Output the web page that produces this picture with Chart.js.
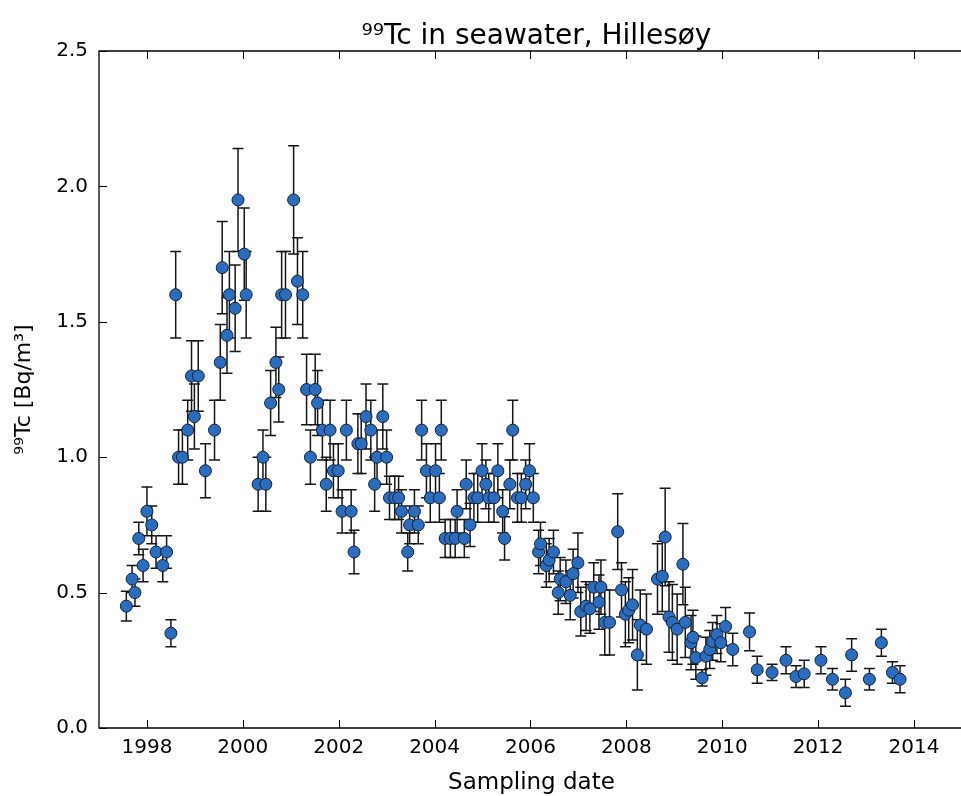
<!DOCTYPE html>
<html><head><meta charset="utf-8">
<script src="https://cdn.jsdelivr.net/npm/chart.js@4.4.1/dist/chart.umd.min.js"></script>
<style>html,body{margin:0;padding:0;overflow:hidden;background:#fff}canvas{display:block}</style>
</head><body>
<canvas id="c" width="961" height="796"></canvas>
<script>
const titleText = '⁹⁹Tc in seawater, Hillesøy';
const xLabel = 'Sampling date';
const yLabel = '⁹⁹Tc [Bq/m³]';
const xTicks = [1998, 2000, 2002, 2004, 2006, 2008, 2010, 2012, 2014];
const yTicks = [0.0, 0.5, 1.0, 1.5, 2.0, 2.5];

const years = [
1997.57,1997.69,1997.75,1997.83,1997.92,1998.00,1998.10,1998.19,1998.33,1998.41,
1998.50,1998.60,1998.66,1998.74,1998.85,1998.93,1998.99,1999.07,1999.22,1999.41,
1999.53,1999.57,1999.67,1999.72,1999.84,1999.90,2000.03,2000.07,2000.32,2000.42,
2000.48,2000.58,2000.69,2000.75,2000.81,2000.89,2001.06,2001.14,2001.25,2001.33,
2001.41,2001.51,2001.56,2001.66,2001.74,2001.82,2001.89,2001.99,2002.07,2002.16,
2002.26,2002.32,2002.40,2002.47,2002.57,2002.67,2002.75,2002.80,2002.92,2003.00,
2003.06,2003.17,2003.25,2003.31,2003.44,2003.48,2003.58,2003.66,2003.73,2003.83,
2003.91,2004.02,2004.10,2004.14,2004.22,2004.33,2004.43,2004.47,2004.62,2004.66,
2004.74,2004.82,2004.90,2004.99,2005.07,2005.13,2005.24,2005.32,2005.42,2005.46,
2005.57,2005.63,2005.73,2005.81,2005.90,2005.98,2006.06,2006.17,2006.21,2006.33,
2006.39,2006.48,2006.58,2006.62,2006.74,2006.83,2006.89,2006.99,2007.05,2007.16,
2007.24,2007.32,2007.43,2007.47,2007.55,2007.65,2007.82,2007.90,2007.98,2008.05,
2008.13,2008.23,2008.29,2008.42,2008.65,2008.75,2008.81,2008.89,2008.96,2009.06,
2009.18,2009.23,2009.35,2009.39,2009.45,2009.58,2009.66,2009.74,2009.80,2009.89,
2009.97,2010.07,2010.22,2010.57,2010.73,2011.04,2011.33,2011.54,2011.71,2012.06,
2012.30,2012.57,2012.70,2013.07,2013.32,2013.55,2013.71
];

const values = [
0.45,0.55,0.50,0.70,0.60,0.80,0.75,0.65,0.60,0.65,
0.35,1.60,1.00,1.00,1.10,1.30,1.15,1.30,0.95,1.10,
1.35,1.70,1.45,1.60,1.55,1.95,1.75,1.60,0.90,1.00,
0.90,1.20,1.35,1.25,1.60,1.60,1.95,1.65,1.60,1.25,
1.00,1.25,1.20,1.10,0.90,1.10,0.95,0.95,0.80,1.10,
0.80,0.65,1.05,1.05,1.15,1.10,0.90,1.00,1.15,1.00,
0.85,0.85,0.85,0.80,0.65,0.75,0.80,0.75,1.10,0.95,
0.85,0.95,0.85,1.10,0.70,0.70,0.70,0.80,0.70,0.90,
0.75,0.85,0.85,0.95,0.90,0.85,0.85,0.95,0.80,0.70,
0.90,1.10,0.85,0.85,0.90,0.95,0.85,0.65,0.68,0.60,
0.62,0.65,0.50,0.55,0.54,0.49,0.57,0.61,0.43,0.45,
0.44,0.52,0.465,0.52,0.39,0.39,0.725,0.51,0.42,0.435,
0.455,0.27,0.38,0.365,0.55,0.56,0.705,0.41,0.39,0.365,
0.605,0.39,0.315,0.335,0.26,0.185,0.265,0.29,0.32,0.345,
0.315,0.375,0.29,0.355,0.215,0.205,0.25,0.19,0.20,0.25,
0.18,0.13,0.27,0.18,0.315,0.205,0.18
];

const errors = [
0.055,0.05,0.05,0.06,0.06,0.09,0.07,0.06,0.06,0.06,
0.05,0.16,0.10,0.10,0.11,0.13,0.12,0.13,0.10,0.11,
0.14,0.17,0.14,0.16,0.16,0.19,0.17,0.16,0.10,0.10,
0.10,0.12,0.13,0.12,0.16,0.16,0.20,0.16,0.16,0.13,
0.10,0.13,0.12,0.11,0.10,0.11,0.10,0.10,0.08,0.11,
0.08,0.08,0.11,0.11,0.12,0.11,0.10,0.10,0.12,0.10,
0.08,0.08,0.08,0.08,0.07,0.07,0.08,0.07,0.11,0.10,
0.09,0.10,0.09,0.11,0.07,0.07,0.07,0.08,0.07,0.09,
0.08,0.09,0.09,0.10,0.09,0.09,0.09,0.10,0.08,0.08,
0.09,0.11,0.09,0.09,0.09,0.10,0.09,0.08,0.08,0.08,
0.08,0.08,0.08,0.08,0.08,0.09,0.09,0.11,0.09,0.09,
0.09,0.09,0.10,0.10,0.12,0.12,0.14,0.10,0.12,0.12,
0.13,0.13,0.13,0.13,0.13,0.13,0.18,0.13,0.14,0.13,
0.15,0.13,0.10,0.10,0.08,0.03,0.07,0.07,0.07,0.07,
0.07,0.07,0.06,0.07,0.05,0.03,0.05,0.04,0.05,0.05,
0.04,0.05,0.06,0.04,0.05,0.04,0.05
];

const FONT = "'DejaVu Sans', sans-serif";
Chart.defaults.font.family = FONT;
Chart.defaults.color = '#000';

const errorBarPlugin = {
  id: 'errorBars',
  beforeDatasetsDraw(chart) {
    const {ctx, scales: {x, y}} = chart;
    ctx.save();
    ctx.strokeStyle = '#151515';
    ctx.lineWidth = 1.5;
    for (let i = 0; i < years.length; i++) {
      const px = x.getPixelForValue(years[i]);
      const yt = y.getPixelForValue(values[i] + errors[i]);
      const yb = y.getPixelForValue(values[i] - errors[i]);
      ctx.beginPath();
      ctx.moveTo(px, yt); ctx.lineTo(px, yb);
      ctx.moveTo(px - 5.5, yt); ctx.lineTo(px + 5.5, yt);
      ctx.moveTo(px - 5.5, yb); ctx.lineTo(px + 5.5, yb);
      ctx.stroke();
    }
    ctx.restore();
  }
};

const framePlugin = {
  id: 'frame',
  afterDatasetsDraw(chart) {
    const {ctx, chartArea: a, scales: {x, y}} = chart;
    ctx.save();
    ctx.strokeStyle = '#000';
    ctx.lineWidth = 1.3;
    ctx.beginPath();
    ctx.moveTo(chart.width, a.top); ctx.lineTo(a.left, a.top);
    ctx.lineTo(a.left, a.bottom); ctx.lineTo(chart.width, a.bottom);
    ctx.stroke();
    ctx.lineWidth = 1;
    ctx.beginPath();
    xTicks.forEach(v => {
      const px = Math.round(x.getPixelForValue(v)) + 0.5;
      ctx.moveTo(px, a.bottom); ctx.lineTo(px, a.bottom - 8);
      ctx.moveTo(px, a.top); ctx.lineTo(px, a.top + 8);
    });
    yTicks.forEach(v => {
      const py = Math.round(y.getPixelForValue(v)) + 0.5;
      ctx.moveTo(a.left, py); ctx.lineTo(a.left + 8, py);
    });
    ctx.stroke();
    // title and x label centred over the full axes (axes run to 2015, beyond the page edge)
    const cx = x.getPixelForValue(2006);
    ctx.fillStyle = '#000';
    ctx.textAlign = 'center';
    ctx.textBaseline = 'alphabetic';
    ctx.font = '28px ' + FONT;
    ctx.fillText(titleText, cx + 6, 44);
    ctx.font = '23px ' + FONT;
    ctx.fillText(xLabel, cx + 1, 789);
    ctx.restore();
  }
};

new Chart(document.getElementById('c'), {
  type: 'scatter',
  data: {
    datasets: [{
      data: years.map((v, i) => ({x: v, y: values[i]})),
      backgroundColor: '#2b6cbd',
      borderColor: '#10223a',
      borderWidth: 1,
      pointRadius: 6,
      pointHoverRadius: 6
    }]
  },
  options: {
    responsive: false,
    devicePixelRatio: 1,
    animation: false,
    layout: {padding: {top: 51, right: 0, bottom: 0, left: 0}},
    plugins: {legend: {display: false}, tooltip: {enabled: false}, title: {display: false}},
    scales: {
      x: {
        type: 'linear', min: 1997, max: 2014.835,
        afterBuildTicks: s => { s.ticks = xTicks.map(v => ({value: v})); },
        afterFit: s => { s.height = 68; },
        grid: {display: false, drawTicks: false},
        border: {display: false},
        ticks: {callback: v => String(v), font: {size: 20}, color: '#000', padding: 8, maxRotation: 0, autoSkip: false},
        title: {display: false}
      },
      y: {
        type: 'linear', min: 0, max: 2.5,
        afterBuildTicks: s => { s.ticks = yTicks.map(v => ({value: v})); },
        afterFit: s => { s.width = 99; },
        grid: {display: false, drawTicks: false},
        border: {display: false},
        ticks: {callback: v => v.toFixed(1), font: {size: 20}, color: '#000', padding: 11},
        title: {display: true, text: yLabel, font: {size: 22}, color: '#000', padding: {top: 11, bottom: 0}}
      }
    }
  },
  plugins: [errorBarPlugin, framePlugin]
});
</script>
</body></html>
